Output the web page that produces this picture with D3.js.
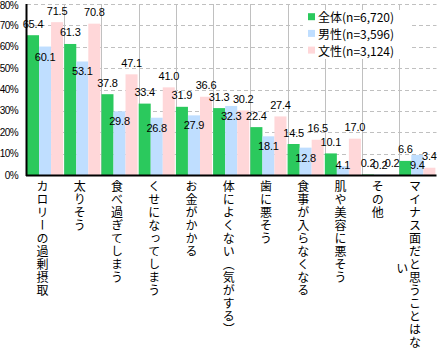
<!DOCTYPE html>
<html>
<head>
<meta charset="utf-8">
<script src="https://cdn.jsdelivr.net/npm/d3@7"></script>
<style>
  body { margin: 0; background: #fff; }
  svg { display: block; }
  .val { font-family: "Liberation Sans", Arial, sans-serif; font-size: 11px; fill: #000; letter-spacing: -0.2px; }
  .ytick { font-family: "Liberation Sans", Arial, sans-serif; font-size: 10px; fill: #000; letter-spacing: -0.6px; }
  .cat { font-family: "Noto Sans CJK JP", sans-serif; font-size: 12px; fill: #000; }
  .leg { font-family: "Noto Sans CJK JP", sans-serif; font-size: 12px; fill: #000; }
</style>
</head>
<body>
<div id="chart"></div>
<script>
const categories = ["カロリーの過剰摂取", "太りそう", "食べ過ぎてしまう", "くせになってしまう", "お金がかかる",
  "体によくない（気がする）", "歯に悪そう", "食事が入らなくなる", "肌や美容に悪そう", "その他", "マイナス面だと思うことはない"];
const totalValues = [65.4, 61.3, 37.8, 33.4, 31.9, 31.3, 22.4, 14.5, 10.1, 0.2, 6.6];
const maleValues = [60.1, 53.1, 29.8, 26.8, 27.9, 32.3, 18.1, 12.8, 4.1, 0.2, 9.4];
const femaleValues = [71.5, 70.8, 47.1, 41.0, 36.6, 30.2, 27.4, 16.5, 17.0, 0.2, 3.4];
const seriesNames = ["全体(n=6,720)", "男性(n=3,596)", "文性(n=3,124)"];
const yTicks = [0, 10, 20, 30, 40, 50, 60, 70, 80];

const colors = ["#2bc95d", "#bfdeff", "#ffd7d9"];
const series = [totalValues, maleValues, femaleValues];

const width = 437, height = 361;
const plot = { left: 27, right: 436.5, top: 4, bottom: 175 };

const svg = d3.select("#chart").append("svg")
  .attr("width", width)
  .attr("height", height);

const x = d3.scaleBand()
  .domain(categories)
  .range([plot.left, plot.right]);

const xInner = d3.scaleBand()
  .domain(d3.range(series.length))
  .range([0, x.bandwidth() * 0.97]);

const y = d3.scaleLinear()
  .domain([0, 80])
  .range([plot.bottom, plot.top]);

// horizontal dashed gridlines
svg.append("g").selectAll("line")
  .data(yTicks.slice(1))
  .enter().append("line")
  .attr("x1", plot.left).attr("x2", plot.right)
  .attr("y1", d => Math.round(y(d)) + 0.5).attr("y2", d => Math.round(y(d)) + 0.5)
  .attr("stroke", "#c0c0c0")
  .attr("stroke-dasharray", "4,3");

// vertical separators between categories
svg.append("g").selectAll("line")
  .data(categories)
  .enter().append("line")
  .attr("x1", d => Math.round(x(d) + x.bandwidth()) + 0.5)
  .attr("x2", d => Math.round(x(d) + x.bandwidth()) + 0.5)
  .attr("y1", plot.top).attr("y2", plot.bottom)
  .attr("stroke", "#c0c0c0");

// legend background hides the grid behind it
svg.append("rect")
  .attr("x", 303).attr("y", 10)
  .attr("width", 108).attr("height", 49)
  .attr("fill", "#fff");

// bars
series.forEach((vals, si) => {
  svg.append("g").selectAll("rect")
    .data(vals)
    .enter().append("rect")
    .attr("x", (d, i) => x(categories[i]) + xInner(si))
    .attr("y", d => y(d))
    .attr("width", xInner.bandwidth())
    .attr("height", d => y(0) - y(d))
    .attr("fill", colors[si]);
});

// value labels
series.forEach((vals, si) => {
  svg.append("g").selectAll("text")
    .data(vals)
    .enter().append("text")
    .attr("class", "val")
    .attr("x", (d, i) => x(categories[i]) + xInner(si) + xInner.bandwidth() / 2)
    .attr("y", d => si === 1 ? Math.min(y(d) + 10, 164.5) : y(d) - 11.5)
    .attr("text-anchor", "middle")
    .attr("dominant-baseline", "central")
    .text(d => d.toFixed(1));
});

// axes
svg.append("line")
  .attr("x1", plot.left - 0.5).attr("x2", plot.left - 0.5)
  .attr("y1", plot.top).attr("y2", plot.bottom + 1)
  .attr("stroke", "#000").attr("stroke-width", 2);
svg.append("line")
  .attr("x1", plot.left - 1).attr("x2", plot.right)
  .attr("y1", plot.bottom + 0.5).attr("y2", plot.bottom + 0.5)
  .attr("stroke", "#000").attr("stroke-width", 2);

svg.append("g").selectAll("text")
  .data(yTicks)
  .enter().append("text")
  .attr("class", "ytick")
  .attr("x", 18)
  .attr("y", d => Math.max(y(d), 5))
  .attr("text-anchor", "end")
  .attr("dominant-baseline", "central")
  .text(d => d + "%");

// vertical category labels (one char per row, wrap to the left column)
const maxRows = 13, rowH = 13.6, firstRow = 188.7;
categories.forEach(cat => {
  const chars = Array.from(cat);
  const cx = x(cat) + x.bandwidth() / 2 - 3;
  const cols = [];
  for (let i = 0; i < chars.length; i += maxRows) cols.push(chars.slice(i, i + maxRows));
  cols.forEach((col, ci) => {
    const startRow = ci === 0 ? 0 : Math.floor((maxRows - col.length) / 2);
    svg.append("text")
      .attr("class", "cat")
      .attr("x", cx - ci * 12.7)
      .attr("y", firstRow + startRow * rowH - 8)
      .style("writing-mode", "vertical-rl")
      .style("letter-spacing", "1px")
      .text(col.join(""));
  });
});

// legend
const legend = svg.append("g").selectAll("g")
  .data(seriesNames)
  .enter().append("g")
  .attr("transform", (d, i) => `translate(308, ${16.7 + i * 16.7})`);
legend.append("rect")
  .attr("x", 0).attr("y", -3.5)
  .attr("width", 7).attr("height", 7)
  .attr("fill", (d, i) => colors[i]);
legend.append("text")
  .attr("class", "leg")
  .attr("x", 10)
  .attr("y", 0)
  .attr("dominant-baseline", "central")
  .text(d => d);
</script>
</body>
</html>
